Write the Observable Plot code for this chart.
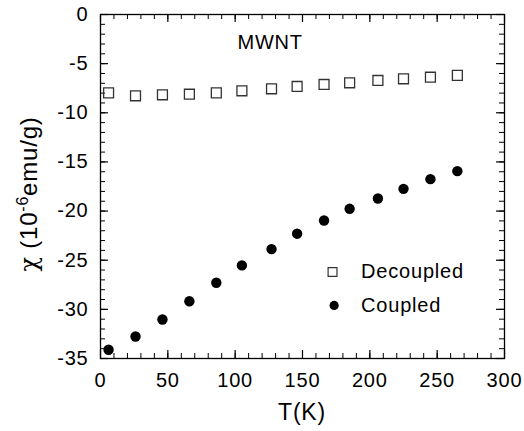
<!DOCTYPE html>
<html>
<head>
<meta charset="utf-8">
<script src="https://cdn.jsdelivr.net/npm/d3@7"></script>
<script src="https://cdn.jsdelivr.net/npm/@observablehq/plot@0.6"></script>
<style>
  html, body { margin: 0; padding: 0; background: #fff; overflow: hidden; }
  svg { display: block; }
</style>
</head>
<body>
<div id="chart"></div>
<script>
// ---- data ----
const temperature = [6, 26, 46, 66, 86, 105, 127, 146, 166, 185, 206, 225, 245, 265];
const decoupled = [-7.97, -8.27, -8.17, -8.11, -7.97, -7.76, -7.56, -7.32, -7.12, -6.95, -6.71, -6.54, -6.38, -6.2];
const coupled = [-34.11, -32.76, -31.03, -29.17, -27.29, -25.53, -23.87, -22.3, -20.96, -19.77, -18.72, -17.74, -16.75, -15.94];
const seriesNames = ["Decoupled", "Coupled"];
const xTicks = [0, 50, 100, 150, 200, 250, 300];
const yTicks = [0, -5, -10, -15, -20, -25, -30, -35];
const xMinorTicks = d3.range(0, 301, 10);
const yMinorTicks = d3.range(-35, 1, 1);
const sampleLabel = "MWNT";
const xTitle = "T(K)";

// ---- layout ----
const W = 524, H = 431;
const mL = 100, mR = 20, mT = 14, mB = 73;
const plotW = W - mL - mR;
const plotH = H - mT - mB;
const fontFamily = "'Liberation Sans', Arial, Helvetica, sans-serif";

const rows = temperature.map((t, i) => ({t, dec: decoupled[i], cou: coupled[i]}));

const svg = Plot.plot({
  width: W,
  height: H,
  marginLeft: mL,
  marginRight: mR,
  marginTop: mT,
  marginBottom: mB,
  x: {domain: [0, 300]},
  y: {domain: [-35, 0]},
  style: {fontFamily, fontSize: "20px", background: "#fff", color: "#000", letterSpacing: "0.8px"},
  marks: [
    // inward minor/major ticks on all four sides
    Plot.ruleX(xMinorTicks, {x: d => d, insetTop: plotH - 5, stroke: "#000", strokeWidth: 1}),
    Plot.ruleX(xTicks, {x: d => d, insetTop: plotH - 8, stroke: "#000", strokeWidth: 1.2}),
    Plot.ruleX(xMinorTicks, {x: d => d, insetBottom: plotH - 5, stroke: "#000", strokeWidth: 1}),
    Plot.ruleX(xTicks, {x: d => d, insetBottom: plotH - 8, stroke: "#000", strokeWidth: 1.2}),
    Plot.ruleY(yMinorTicks, {y: d => d, insetRight: plotW - 5, stroke: "#000", strokeWidth: 1}),
    Plot.ruleY(yTicks, {y: d => d, insetRight: plotW - 8, stroke: "#000", strokeWidth: 1.2}),
    Plot.ruleY(yMinorTicks, {y: d => d, insetLeft: plotW - 5, stroke: "#000", strokeWidth: 1}),
    Plot.ruleY(yTicks, {y: d => d, insetLeft: plotW - 8, stroke: "#000", strokeWidth: 1.2}),
    Plot.frame({stroke: "#000", strokeWidth: 1.3}),
    Plot.axisX(xTicks, {tickSize: 0, tickPadding: 14, label: null, tickFormat: d => String(d)}),
    Plot.axisY(yTicks, {tickSize: 0, tickPadding: 12, label: null, tickFormat: d => String(d)}),
    // data
    Plot.dot(rows, {x: "t", y: "dec", symbol: "square", r: 5.6, fill: "none", stroke: "#333", strokeWidth: 1.3}),
    Plot.dot(rows, {x: "t", y: "cou", r: 5.2, fill: "#000", stroke: "none"}),
    // annotation
    Plot.text([sampleLabel], {x: () => 101.7, y: () => -2.85, text: d => d, textAnchor: "start", lineAnchor: "middle", fontSize: 20}),
    // legend
    Plot.dot([seriesNames[0]], {x: () => 172.3, y: () => -26.2, symbol: "square", r: 5, fill: "none", stroke: "#333", strokeWidth: 1.2}),
    Plot.dot([seriesNames[1]], {x: () => 173.5, y: () => -29.6, r: 4.6, fill: "#000", stroke: "none"}),
    Plot.text([seriesNames[0]], {x: () => 193.5, y: () => -26.2, text: d => d, textAnchor: "start", lineAnchor: "middle", fontSize: 20}),
    Plot.text([seriesNames[1]], {x: () => 193.5, y: () => -29.6, text: d => d, textAnchor: "start", lineAnchor: "middle", fontSize: 20})
  ]
});

const s = d3.select(svg);
// x-axis title
s.append("text")
  .attr("x", mL + plotW / 2)
  .attr("y", 420)
  .attr("text-anchor", "middle")
  .attr("font-size", 23)
  .attr("font-family", fontFamily)
  .attr("fill", "#000")
  .text(xTitle);
// y-axis title with superscript
const yt = s.append("text")
  .attr("transform", "translate(37,194) rotate(-90)")
  .attr("text-anchor", "middle")
  .attr("font-size", 24)
  .attr("font-family", fontFamily)
  .attr("fill", "#000");
yt.append("tspan").attr("font-family", "'DejaVu Serif', serif").text("χ");
yt.append("tspan").text(" (10");
yt.append("tspan").attr("font-size", 16).attr("dy", -9).text("-6");
yt.append("tspan").attr("dy", 9).text("emu/g)");

document.getElementById("chart").appendChild(svg);
</script>
</body>
</html>
